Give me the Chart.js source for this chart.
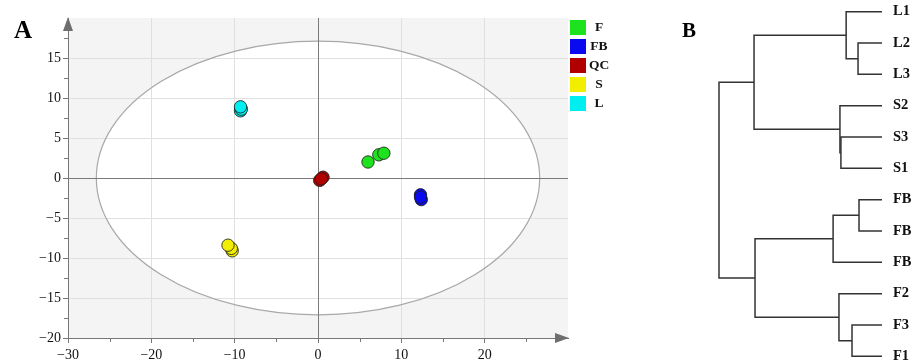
<!DOCTYPE html>
<html>
<head>
<meta charset="utf-8">
<script src="https://cdn.jsdelivr.net/npm/chart.js@4/dist/chart.umd.min.js"></script>
<style>
  html, body { margin: 0; padding: 0; background: #fff; }
  #wrap { position: relative; width: 920px; height: 360px; overflow: hidden; background: #fff; }
  #ca { position: absolute; left: 0; top: 0; }
  #cb { position: absolute; left: 640px; top: -8px; }
</style>
</head>
<body>
<div id="wrap">
  <canvas id="ca" width="640" height="360"></canvas>
  <canvas id="cb" width="280" height="384"></canvas>
</div>
<script>
// ---------- Panel A data (PCA scores) ----------
const groups = ['F', 'FB', 'QC', 'S', 'L'];
const F_x  = [6.0, 7.3, 7.9];
const F_y  = [2.0, 2.9, 3.1];
const FB_x = [12.3, 12.4, 12.3];
const FB_y = [-2.1, -2.7, -2.4];
const QC_x = [0.2, 0.6, 0.4];
const QC_y = [-0.3, 0.1, -0.1];
const S_x  = [-10.3, -10.4, -10.8];
const S_y  = [-9.1, -8.8, -8.4];
const L_x  = [-9.3, -9.2, -9.3];
const L_y  = [8.4, 8.6, 8.9];
const xTicks = [-30, -20, -10, 0, 10, 20];
const yTicks = [-20, -15, -10, -5, 0, 5, 10, 15];
const ellipseSemiX = 26.6;
const ellipseSemiY = 17.1;

// ---------- Panel B data (dendrogram) ----------
const leafLabels   = ['L1', 'L2', 'L3', 'S2', 'S3', 'S1', 'FB', 'FB', 'FB', 'F2', 'F3', 'F1'];
const mergeLeft    = [1, 0, 4, 3, 13, 6, 17, 10, 9, 18, 16];
const mergeRight   = [2, 12, 5, 14, 15, 7, 8, 11, 19, 20, 21];
const mergeHeight  = [1.47, 2.2, 2.52, 2.58, 7.85, 1.41, 3.0, 1.84, 2.64, 7.79, 10];

// ---------- styles ----------
const groupColors = ['#1ee21e', '#0a0af0', '#b00000', '#f2ee00', '#00eef0'];
const serif = "'Liberation Serif', 'DejaVu Serif', serif";
const seriesX = [F_x, FB_x, QC_x, S_x, L_x];
const seriesY = [F_y, FB_y, QC_y, S_y, L_y];
const fmt = v => (v < 0 ? '\u2212' + Math.abs(v) : String(v));

const datasetsA = groups.map((g, i) => ({
  label: g,
  data: seriesX[i].map((x, j) => ({ x: x, y: seriesY[i][j] })),
  backgroundColor: groupColors[i],
  borderColor: 'rgba(30,30,30,0.85)',
  borderWidth: 1,
  pointRadius: 6.2,
  pointHoverRadius: 6.2
}));

const panelAPlugin = {
  id: 'panelA',
  beforeDraw(chart) {
    const { ctx, chartArea: a, scales } = chart;
    ctx.save();
    ctx.fillStyle = '#f4f4f4';
    ctx.fillRect(a.left, a.top, a.right - a.left, a.bottom - a.top);
    const cx = scales.x.getPixelForValue(0), cy = scales.y.getPixelForValue(0);
    const rx = scales.x.getPixelForValue(ellipseSemiX) - cx;
    const ry = cy - scales.y.getPixelForValue(ellipseSemiY);
    ctx.beginPath();
    ctx.ellipse(cx, cy, rx, ry, 0, 0, Math.PI * 2);
    ctx.fillStyle = '#ffffff';
    ctx.fill();
    ctx.restore();
  },
  beforeDatasetsDraw(chart) {
    const { ctx, chartArea: a, scales } = chart;
    const cx = scales.x.getPixelForValue(0), cy = scales.y.getPixelForValue(0);
    const rx = scales.x.getPixelForValue(ellipseSemiX) - cx;
    const ry = cy - scales.y.getPixelForValue(ellipseSemiY);
    ctx.save();
    ctx.beginPath();
    ctx.ellipse(cx, cy, rx, ry, 0, 0, Math.PI * 2);
    ctx.strokeStyle = '#a8a8a8';
    ctx.lineWidth = 1.2;
    ctx.stroke();
    // zero lines
    ctx.strokeStyle = '#7a7a7a';
    ctx.lineWidth = 1;
    ctx.beginPath();
    ctx.moveTo(Math.round(cx) + 0.5, a.top); ctx.lineTo(Math.round(cx) + 0.5, a.bottom);
    ctx.moveTo(a.left, Math.round(cy) + 0.5); ctx.lineTo(a.right, Math.round(cy) + 0.5);
    ctx.stroke();
    // minor ticks
    ctx.strokeStyle = '#777';
    ctx.beginPath();
    for (let v = -25; v < 30; v += 10) {
      const px = Math.round(scales.x.getPixelForValue(v)) + 0.5;
      ctx.moveTo(px, a.bottom); ctx.lineTo(px, a.bottom + 4);
    }
    for (let v = -17.5; v < 20; v += 5) {
      const py = Math.round(scales.y.getPixelForValue(v)) + 0.5;
      ctx.moveTo(a.left - 4, py); ctx.lineTo(a.left, py);
    }
    ctx.stroke();
    // arrows
    ctx.fillStyle = '#6e6e6e';
    ctx.beginPath();
    ctx.moveTo(a.left, a.top - 1); ctx.lineTo(a.left - 5, a.top + 13); ctx.lineTo(a.left + 5, a.top + 13); ctx.closePath();
    ctx.fill();
    ctx.beginPath();
    ctx.moveTo(a.right + 1, a.bottom); ctx.lineTo(a.right - 13, a.bottom - 5); ctx.lineTo(a.right - 13, a.bottom + 5); ctx.closePath();
    ctx.fill();
    ctx.restore();
  },
  afterDraw(chart) {
    const { ctx } = chart;
    ctx.save();
    // legend
    ctx.font = 'bold 13.5px ' + serif;
    ctx.textAlign = 'center';
    ctx.textBaseline = 'middle';
    groups.forEach((g, i) => {
      ctx.fillStyle = groupColors[i];
      ctx.fillRect(570, 20 + 19 * i, 16, 15);
      ctx.fillStyle = '#111';
      ctx.fillText(g, 599, 28 + 19 * i);
    });
    // panel letter
    ctx.font = 'bold 25px ' + serif;
    ctx.textAlign = 'left';
    ctx.textBaseline = 'alphabetic';
    ctx.fillStyle = '#000';
    ctx.fillText('A', 14, 38);
    ctx.restore();
  }
};

new Chart(document.getElementById('ca'), {
  type: 'scatter',
  data: { datasets: datasetsA },
  plugins: [panelAPlugin],
  options: {
    responsive: false,
    animation: false,
    devicePixelRatio: 1,
    layout: { padding: { top: 18, right: 72, left: 0, bottom: 0 } },
    plugins: { legend: { display: false }, tooltip: { enabled: false } },
    scales: {
      x: {
        type: 'linear', min: -30, max: 30,
        afterBuildTicks: s => { s.ticks = xTicks.concat([30]).map(v => ({ value: v })); },
        afterFit: s => { s.height = 22; },
        ticks: {
          autoSkip: false, maxRotation: 0, padding: 4,
          color: '#111', font: { family: serif, size: 14 },
          callback: v => (v === 30 ? '' : fmt(v))
        },
        grid: {
          tickLength: 5,
          color: c => (c.tick && (c.tick.value === 30 || c.tick.value === 0 || c.tick.value === -30) ? 'rgba(0,0,0,0)' : '#e0e0e0'),
          tickColor: c => (c.tick && c.tick.value === 30 ? 'rgba(0,0,0,0)' : '#777')
        },
        border: { color: '#777', width: 1 }
      },
      y: {
        type: 'linear', min: -20, max: 20,
        afterBuildTicks: s => { s.ticks = yTicks.concat([20]).map(v => ({ value: v })); },
        afterFit: s => { s.width = 68; },
        ticks: {
          autoSkip: false, padding: 2,
          color: '#111', font: { family: serif, size: 14 },
          callback: v => (v === 20 ? '' : fmt(v))
        },
        grid: {
          tickLength: 5,
          color: c => (c.tick && (c.tick.value === 20 || c.tick.value === 0 || c.tick.value === -20) ? 'rgba(0,0,0,0)' : '#e0e0e0'),
          tickColor: c => (c.tick && c.tick.value === 20 ? 'rgba(0,0,0,0)' : '#777')
        },
        border: { color: '#777', width: 1 }
      }
    }
  }
});

// ---------- Panel B: dendrogram ----------
const nodeY = leafLabels.map((_, i) => i);
const nodeH = leafLabels.map(() => 0);
const linkSets = [];
mergeHeight.forEach((h, k) => {
  const l = mergeLeft[k], r = mergeRight[k];
  linkSets.push([
    { x: nodeH[l], y: nodeY[l] }, { x: h, y: nodeY[l] },
    { x: h, y: nodeY[r] }, { x: nodeH[r], y: nodeY[r] }
  ]);
  nodeY.push((nodeY[l] + nodeY[r]) / 2);
  nodeH.push(h);
});

const panelBPlugin = {
  id: 'panelB',
  afterDraw(chart) {
    const { ctx } = chart;
    ctx.save();
    ctx.font = 'bold 21px ' + serif;
    ctx.fillStyle = '#000';
    ctx.textBaseline = 'alphabetic';
    ctx.fillText('B', 42, 45);
    ctx.restore();
  }
};

new Chart(document.getElementById('cb'), {
  type: 'scatter',
  data: {
    datasets: linkSets.map(pts => ({
      data: pts, showLine: true, tension: 0, clip: false,
      borderColor: '#333', borderWidth: 1.5, pointRadius: 0, pointHoverRadius: 0, fill: false
    }))
  },
  plugins: [panelBPlugin],
  options: {
    responsive: false,
    animation: false,
    devicePixelRatio: 1,
    layout: { padding: { top: 10, left: 79, right: 0, bottom: 13 } },
    plugins: { legend: { display: false }, tooltip: { enabled: false } },
    scales: {
      x: { type: 'linear', min: 0, max: 10, reverse: true, display: false },
      y: {
        type: 'linear', position: 'right', min: 0, max: leafLabels.length - 1, reverse: true,
        afterBuildTicks: s => { s.ticks = leafLabels.map((_, i) => ({ value: i })); },
        afterFit: s => { s.width = 38; },
        ticks: {
          autoSkip: false, padding: 11, color: '#111',
          font: { family: serif, size: 14.5, weight: 'bold' },
          callback: v => leafLabels[v]
        },
        grid: { display: false, drawTicks: false },
        border: { display: false }
      }
    }
  }
});
</script>
</body>
</html>
